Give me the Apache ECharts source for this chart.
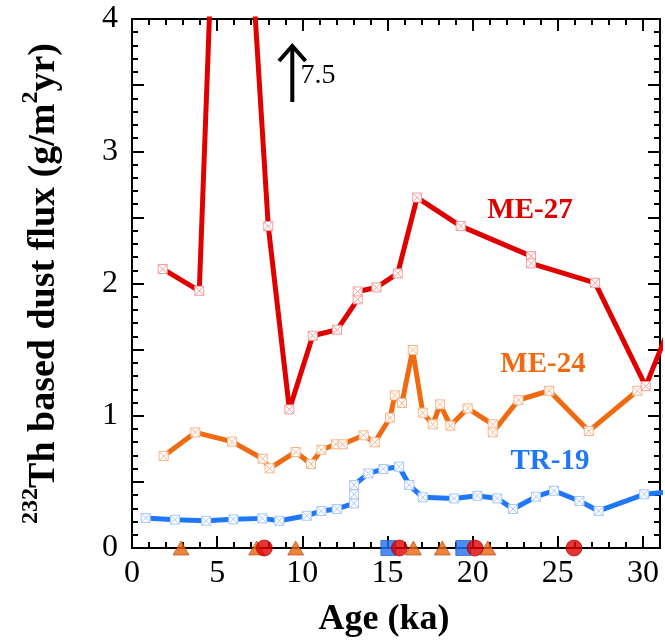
<!DOCTYPE html>
<html><head><meta charset="utf-8">
<script src="https://cdn.jsdelivr.net/npm/echarts@6/dist/echarts.min.js"></script>
<style>html,body{margin:0;padding:0;background:#fff}#c{width:665px;height:640px}</style>
</head><body><div id="c"></div>
<script>
// ---- data ----
const xTickLabels = [0, 5, 10, 15, 20, 25, 30];
const yTickLabels = [0, 1, 2, 3, 4];

const me27Age  = [1.80, 3.95, 5.55, 8.00, 9.24, 10.61, 12.04, 13.25, 13.25, 14.35, 15.60, 16.74, 19.30, 23.43, 23.43, 27.19, 30.16, 32.0];
const me27Flux = [2.11, 1.945, 7.5, 2.434, 1.048, 1.605, 1.65, 1.88, 1.94, 1.97, 2.076, 2.65, 2.434, 2.207, 2.152, 2.005, 1.224, 1.81];

const me24Age  = [1.86, 3.72, 5.87, 7.67, 8.08, 9.61, 10.51, 11.12, 11.98, 12.37, 13.60, 14.25, 15.15, 15.43, 15.85, 16.48, 17.07, 17.66, 18.09, 18.69, 19.71, 21.18, 21.18, 22.69, 24.50, 26.82, 29.67];
const me24Flux = [0.695, 0.874, 0.804, 0.675, 0.602, 0.726, 0.635, 0.743, 0.784, 0.784, 0.852, 0.799, 0.985, 1.154, 1.096, 1.497, 1.023, 0.935, 1.086, 0.925, 1.056, 0.935, 0.874, 1.119, 1.189, 0.884, 1.189];

const tr19Age  = [0.80, 2.52, 4.36, 5.95, 7.65, 8.65, 10.26, 11.12, 12.02, 13.04, 13.04, 13.04, 13.88, 14.76, 15.68, 16.28, 17.07, 18.91, 20.28, 21.45, 22.37, 23.72, 24.78, 26.27, 27.40, 30.07, 32.0];
const tr19Flux = [0.227, 0.214, 0.206, 0.217, 0.224, 0.206, 0.244, 0.28, 0.295, 0.338, 0.406, 0.476, 0.564, 0.597, 0.615, 0.476, 0.383, 0.375, 0.395, 0.375, 0.295, 0.388, 0.433, 0.355, 0.28, 0.406, 0.43];

// age control points drawn on the age axis
const me27Dates = [7.77, 15.70, 20.14, 25.95];
const me24Dates = [2.88, 7.32, 9.61, 16.52, 18.22, 20.89];
const tr19Dates = [15.05, 19.45];

// ---- chart ----
const FONT = '"Liberation Serif", "Times New Roman", serif';
const RED = '#e00000', ORANGE = '#f06a12', BLUE = '#1f78fa';
const BOX_X = 'path://M0 0H10V10H0Z M0 0L10 10 M10 0L0 10';

const pairs = (xs, ys) => xs.map((x, i) => [x, ys[i]]);
const onAxis = xs => xs.map(x => [x, 0]);

const tickStyle = {color: '#000', width: 2};
function xAx(pos, interval, main) {
  return {
    type: 'value', min: 0, max: 31, interval: interval, position: pos,
    axisLine: {show: main, onZero: false, lineStyle: {color: '#000', width: 2}},
    axisTick: {show: true, inside: true, length: interval === 5 ? 12 : 6, lineStyle: tickStyle},
    minorTick: {show: false}, splitLine: {show: false},
    axisLabel: (pos === 'bottom' && interval === 5) ? {
      show: true, margin: 10, fontSize: 32, fontFamily: FONT, color: '#000',
      formatter: v => xTickLabels.includes(v) ? String(v) : ''
    } : {show: false}
  };
}
function yAx(pos) {
  return {
    type: 'value', min: 0, max: 4, interval: 0.5, position: pos,
    axisLine: {show: true, onZero: false, lineStyle: {color: '#000', width: 2}},
    axisTick: {show: true, inside: true, length: 12, lineStyle: tickStyle},
    minorTick: {show: true, splitNumber: 5, length: 6, lineStyle: tickStyle},
    splitLine: {show: false}, minorSplitLine: {show: false},
    axisLabel: pos === 'left' ? {
      show: true, margin: 14, fontSize: 32, fontFamily: FONT, color: '#000',
      formatter: v => yTickLabels.includes(v) ? String(v) : ''
    } : {show: false}
  };
}

function lineSeries(name, data, color, markColor) {
  return {
    type: 'line', name: name, data: data, xAxisIndex: 0, yAxisIndex: 0,
    showAllSymbol: true, symbol: BOX_X, symbolSize: 9, symbolKeepAspect: true,
    lineStyle: {color: color, width: 5}, itemStyle: {color: '#fff', borderColor: markColor, borderWidth: 1},
    emphasis: {disabled: true}, animation: false, clip: true
  };
}

const chart = echarts.init(document.getElementById('c'), null, {renderer: 'canvas'});
const xMain = xAx('bottom', 5, true);
xMain.name = 'Age (ka)';
xMain.nameLocation = 'middle';
xMain.nameGap = 54;
xMain.nameTextStyle = {fontSize: 36, fontWeight: 'bold', fontFamily: FONT, color: '#000', padding: [0, 24, 0, 0]};
const yMain = yAx('left');
yMain.name = '{sup|232}{b|Th based dust flux (g/m}{sup|2}{b|yr)}';
yMain.nameLocation = 'middle';
yMain.nameRotate = 90;
yMain.nameGap = 69;
yMain.nameTextStyle = {
  rich: {
    b: {fontSize: 38, fontWeight: 'bold', fontFamily: FONT, color: '#000', lineHeight: 44, verticalAlign: 'bottom'},
    sup: {fontSize: 24, fontWeight: 'bold', fontFamily: FONT, color: '#000', lineHeight: 26, verticalAlign: 'top'}
  }
};

chart.setOption({
  animation: false,
  backgroundColor: '#fff',
  grid: {left: 132, right: 5, top: 19, bottom: 92, containLabel: false, outerBoundsMode: 'none'},
  xAxis: [xMain, xAx('bottom', 1, false), xAx('top', 5, true), xAx('top', 1, false)],
  yAxis: [yMain, yAx('right')],
  series: [
    lineSeries('TR-19', pairs(tr19Age, tr19Flux), BLUE, '#a6c8fb'),
    lineSeries('ME-24', pairs(me24Age, me24Flux), ORANGE, '#f7b58a'),
    lineSeries('ME-27', pairs(me27Age, me27Flux), RED, '#f49c9c'),
    {type: 'scatter', data: onAxis(tr19Dates), symbol: 'rect', symbolSize: 15, clip: false, z: 3,
     itemStyle: {color: '#1f6ff2', borderColor: '#1655c0', borderWidth: 0.8}},
    {type: 'scatter', data: onAxis(me24Dates), symbol: 'triangle', symbolSize: [16, 14], clip: false, z: 4,
     itemStyle: {color: '#ea6410', borderColor: '#b04a08', borderWidth: 0.8}},
    {type: 'scatter', data: onAxis(me27Dates), symbol: 'circle', symbolSize: 16, clip: false, z: 5,
     itemStyle: {color: '#e00000', borderColor: '#a00000', borderWidth: 0.8}}
  ],
  graphic: [
    {type: 'text', x: 530, y: 211, style: {text: 'ME-27', fill: RED, font: 'bold 29px ' + FONT, align: 'center', verticalAlign: 'middle'}},
    {type: 'text', x: 543, y: 365, style: {text: 'ME-24', fill: ORANGE, font: 'bold 29px ' + FONT, align: 'center', verticalAlign: 'middle'}},
    {type: 'text', x: 550, y: 462, style: {text: 'TR-19', fill: BLUE, font: 'bold 29px ' + FONT, align: 'center', verticalAlign: 'middle'}},
    {type: 'text', x: 318, y: 76, style: {text: '7.5', fill: '#000', font: '28px ' + FONT, align: 'center', verticalAlign: 'middle'}},
    {type: 'line', shape: {x1: 292.3, y1: 102, x2: 292.3, y2: 47}, style: {stroke: '#000', lineWidth: 4}},
    {type: 'polyline', shape: {points: [[279, 61], [292.3, 46], [305.6, 61]]}, style: {stroke: '#000', lineWidth: 4, fill: null}}
  ]
});
</script></body></html>
